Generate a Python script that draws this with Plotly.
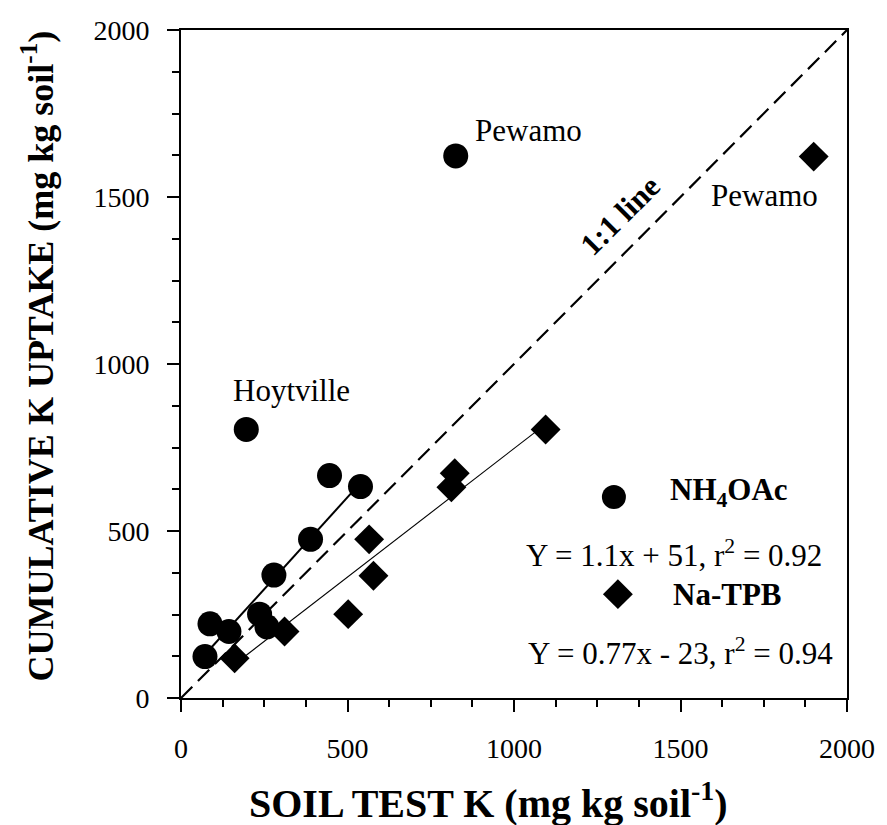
import plotly.graph_objects as go
import numpy as np

# ---- data ----
nh4_x = [72, 87, 144, 236, 258, 279, 389, 446, 539, 196, 825]
nh4_y = [124, 222, 199, 251, 213, 368, 475, 666, 633, 804, 1623]
na_x = [161, 311, 502, 578, 565, 812, 822, 1095, 1900]
na_y = [119, 199, 251, 366, 475, 631, 673, 804, 1621]

# regression coefficients (slope, intercept) and the x-span each fitted line covers
nh4_fit = (1.1, 51)
na_fit = (0.77, -23)
nh4_span = [72, 539]
na_span = [161, 1095]

axis_ticks = [0, 500, 1000, 1500, 2000]

FONT = "Liberation Serif"
BLACK = "#000000"

fig = go.Figure()

# 1:1 line
one = np.array([0, 2000])
fig.add_trace(go.Scatter(x=one, y=one, mode="lines",
                         line=dict(color=BLACK, width=2.2, dash="16px,8px"),
                         hoverinfo="skip", showlegend=False))

# fitted lines
xs = np.array(nh4_span, dtype=float)
fig.add_trace(go.Scatter(x=xs, y=nh4_fit[0] * xs + nh4_fit[1], mode="lines",
                         line=dict(color=BLACK, width=2), showlegend=False))
xs2 = np.array(na_span, dtype=float)
fig.add_trace(go.Scatter(x=xs2, y=na_fit[0] * xs2 + na_fit[1], mode="lines",
                         line=dict(color=BLACK, width=1.1), showlegend=False))

# data points
fig.add_trace(go.Scatter(x=nh4_x, y=nh4_y, mode="markers", name="NH4OAc",
                         marker=dict(symbol="circle", size=25, color=BLACK),
                         showlegend=False))
fig.add_trace(go.Scatter(x=na_x, y=na_y, mode="markers", name="Na-TPB",
                         marker=dict(symbol="diamond", size=23, color=BLACK),
                         showlegend=False))

# key symbols of the in-plot legend
key_x = [1300, 1312]
key_y = [602, 311]
fig.add_trace(go.Scatter(x=[key_x[0]], y=[key_y[0]], mode="markers",
                         marker=dict(symbol="circle", size=24, color=BLACK),
                         hoverinfo="skip", showlegend=False))
fig.add_trace(go.Scatter(x=[key_x[1]], y=[key_y[1]], mode="markers",
                         marker=dict(symbol="diamond", size=23, color=BLACK),
                         hoverinfo="skip", showlegend=False))

reg = dict(family=FONT, size=31, color=BLACK)
bold = dict(family=FONT, size=31, color=BLACK)
eq = dict(family=FONT, size=31, color=BLACK)

annots = [
    dict(x=332, y=922, text="Hoytville", font=reg),
    dict(x=1043, y=1698, text="Pewamo", font=reg),
    dict(x=1752, y=1506, text="Pewamo", font=reg),
    dict(x=1318, y=1446, text="<b>1:1 line</b>", font=bold, textangle=-45),
    dict(x=1647, y=617, text="<b>NH<sub>4</sub>OAc</b>", font=bold),
    dict(x=1480, y=434, text="Y = 1.1x + 51, r<sup>2</sup> = 0.92", font=eq),
    dict(x=1641, y=311, text="<b>Na-TPB</b>", font=bold),
    dict(x=1500, y=138, text="Y = 0.77x - 23, r<sup>2</sup> = 0.94", font=eq),
]
for a in annots:
    fig.add_annotation(xref="x", yref="y", showarrow=False, xanchor="center",
                       yanchor="middle", **a)

# axis titles
fig.add_annotation(xref="paper", yref="paper", x=0.462, y=-0.153,
                   text="<b>SOIL TEST K (mg kg soil<sup>-1</sup>)</b>",
                   font=dict(family=FONT, size=40, color=BLACK),
                   showarrow=False, xanchor="center", yanchor="middle")
fig.add_annotation(xref="paper", yref="paper", x=-0.214, y=0.512,
                   text="<b>CUMULATIVE K UPTAKE (mg kg soil<sup>-1</sup>)</b>",
                   font=dict(family=FONT, size=36, color=BLACK), textangle=-90,
                   showarrow=False, xanchor="center", yanchor="middle")

axis_common = dict(
    range=[0, 2000], tickvals=axis_ticks, showgrid=False, zeroline=False,
    showline=True, linecolor=BLACK, linewidth=2, mirror=True,
    ticks="outside", ticklen=12, tickwidth=1.5, tickcolor=BLACK,
    minor=dict(dtick=125, ticks="outside", ticklen=7, tickwidth=1.5, tickcolor=BLACK),
    tickfont=dict(family=FONT, size=28, color=BLACK),
    ticklabelstandoff=12,
)

fig.update_xaxes(**axis_common)
fig.update_yaxes(**axis_common)

fig.update_layout(
    width=887, height=825,
    margin=dict(l=181, r=37, t=30, b=127),
    paper_bgcolor="white", plot_bgcolor="white",
    showlegend=False,
)

fig.write_html("out.html")
